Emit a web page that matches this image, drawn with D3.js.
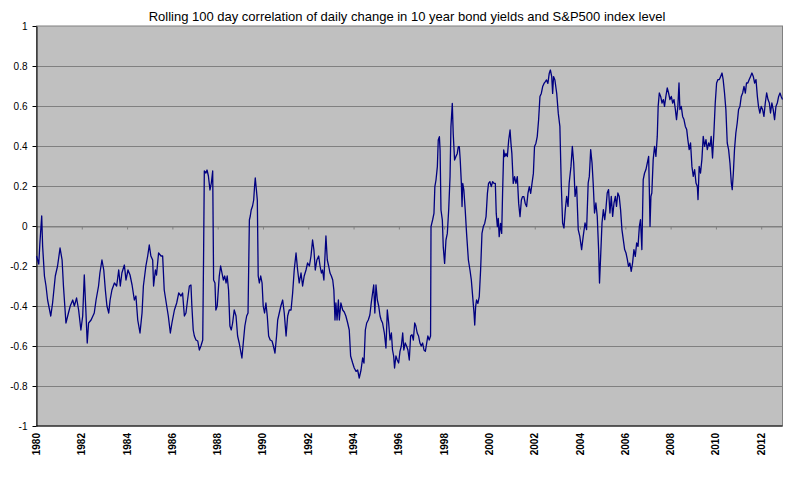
<!DOCTYPE html>
<html>
<head>
<meta charset="utf-8">
<script src="https://cdn.jsdelivr.net/npm/d3@7"></script>
<style>
  html, body { margin: 0; padding: 0; background: #fff; }
  svg text { font-family: Arial, "Liberation Sans", sans-serif; }
</style>
</head>
<body>
<svg id="chart" width="800" height="489"></svg>
<script>
const title = "Rolling 100 day correlation of daily change in 10 year bond yields and S&P500 index level";
const yTicks = [-1, -0.8, -0.6, -0.4, -0.2, 0, 0.2, 0.4, 0.6, 0.8, 1];
const xTickYears = [1980,1982,1984,1986,1988,1990,1992,1994,1996,1998,2000,2002,2004,2006,2008,2010,2012];
const xDomain = [1980, 2012.94];

// decimal year of each observation
const years = [
1980.00,1980.10,1980.15,1980.23,1980.27,1980.35,1980.42,1980.49,1980.63,1980.71,1980.83,1980.93,1981.04,1981.13,1981.19,1981.30,1981.41,1981.49,1981.60,1981.67,1981.77,1981.86,1981.96,1982.04,1982.11,1982.19,1982.24,1982.30,1982.41,1982.55,1982.63,1982.74,1982.80,1982.89,1982.97,1983.04,1983.11,1983.19,1983.25,1983.33,1983.44,1983.54,1983.63,1983.70,1983.77,1983.88,1983.95,1984.04,1984.13,1984.22,1984.32,1984.39,1984.47,1984.57,1984.66,1984.72,1984.83,1984.91,1984.98,1985.05,1985.13,1985.17,1985.25,1985.30,1985.39,1985.50,1985.57,1985.64,1985.75,1985.82,1985.91,1985.98,1986.09,1986.19,1986.28,1986.38,1986.45,1986.53,
1986.60,1986.67,1986.75,1986.82,1986.86,1986.92,1986.97,1987.04,1987.12,1987.19,1987.26,1987.34,1987.38,1987.41,1987.48,1987.53,1987.59,1987.66,1987.72,1987.78,1987.82,1987.88,1987.92,1987.98,1988.07,1988.13,1988.19,1988.25,1988.31,1988.37,1988.42,1988.48,1988.54,1988.60,1988.66,1988.73,1988.81,1988.88,1988.95,1989.03,1989.07,1989.13,1989.20,1989.28,1989.34,1989.40,1989.44,1989.48,1989.54,1989.59,1989.63,1989.66,1989.71,1989.75,1989.79,1989.84,1989.90,1989.96,1990.01,1990.07,1990.13,1990.19,1990.25,1990.32,1990.40,1990.46,1990.53,1990.60,1990.65,1990.72,1990.79,1990.87,1990.94,1991.02,1991.09,1991.16,1991.24,1991.31,1991.38,1991.46,1991.53,1991.60,1991.68,1991.75,1991.82,1991.90,1991.97,1992.05,1992.12,1992.19,1992.25,1992.31,1992.38,1992.46,1992.52,1992.58,1992.63,1992.69,1992.75,1992.78,1992.84,1992.90,1992.96,1993.02,1993.08,1993.13,1993.18,
1993.22,1993.27,1993.33,1993.37,1993.44,1993.52,1993.59,1993.66,1993.74,1993.81,1993.87,1993.96,1994.03,1994.11,1994.18,1994.25,1994.33,1994.40,1994.46,1994.52,1994.58,1994.65,1994.72,1994.78,1994.84,1994.89,1994.94,1994.99,1995.05,1995.11,1995.17,1995.22,1995.28,1995.36,1995.43,1995.49,1995.55,1995.61,1995.67,1995.72,1995.77,1995.81,1995.87,1995.93,1995.99,1996.05,1996.11,1996.17,1996.22,1996.28,1996.34,1996.40,1996.46,1996.52,1996.58,1996.64,1996.70,1996.75,1996.81,1996.87,1996.93,1996.99,1997.05,1997.11,1997.17,1997.23,1997.28,1997.34,1997.40,
1997.42,1997.49,1997.55,1997.59,1997.64,1997.70,1997.74,1997.79,1997.82,1997.86,1997.92,1997.96,1998.02,1998.08,1998.14,1998.20,1998.26,1998.30,1998.36,1998.40,1998.46,1998.52,1998.58,1998.625,1998.67,1998.71,1998.76,1998.79,1998.82,1998.87,1998.93,1998.99,1999.07,1999.14,1999.20,1999.26,1999.32,1999.35,1999.39,1999.43,1999.49,1999.55,1999.61,1999.67,1999.73,1999.79,1999.85,1999.91,1999.96,2000.02,2000.08,2000.14,2000.20,2000.26,2000.30,2000.35,2000.39,2000.43,2000.49,2000.54,2000.58,2000.63,2000.68,2000.73,2000.79,2000.85,2000.91,2000.95,2000.99,2001.05,2001.11,2001.17,2001.23,2001.29,2001.35,2001.41,2001.46,2001.52,2001.58,2001.64,2001.70,2001.76,2001.82,2001.88,2001.94,2001.99,2002.05,2002.11,2002.17,2002.23,2002.29,2002.35,2002.41,2002.47,2002.52,2002.58,2002.64,2002.69,2002.75,2002.79,2002.83,2002.89,2002.97,2003.04,
2003.11,2003.17,2003.23,2003.29,2003.35,2003.41,2003.47,2003.52,2003.60,2003.66,2003.72,2003.78,2003.85,2003.92,2003.99,2004.07,2004.14,2004.22,2004.29,2004.36,2004.41,2004.47,2004.53,2004.58,2004.64,2004.70,2004.76,2004.82,2004.86,2004.91,2004.97,2005.03,2005.09,2005.14,2005.20,2005.26,2005.32,2005.38,2005.44,2005.50,2005.56,2005.61,2005.67,2005.73,2005.79,2005.85,2005.91,2005.97,2006.03,2006.09,2006.14,2006.20,2006.26,2006.32,2006.38,2006.44,2006.50,2006.56,2006.62,2006.67,2006.73,2006.79,2006.85,2006.91,2006.97,2007.03,2007.06,2007.09,2007.13,2007.17,2007.23,2007.29,2007.35,2007.41,2007.45,2007.50,2007.56,2007.62,2007.68,2007.73,2007.79,2007.85,2007.91,2007.97,2008.03,2008.09,2008.15,2008.21,2008.26,2008.32,2008.37,2008.41,2008.47,2008.53,2008.59,2008.65,2008.71,2008.76,2008.82,2008.88,2008.94,2009.00,2009.06,2009.12,2009.18,2009.21,2009.26,2009.32,2009.38,2009.44,2009.50,2009.56,2009.62,2009.68,2009.74,2009.79,2009.85,2009.91,2009.97,2010.03,2010.09,2010.15,2010.21,2010.27,2010.32,2010.38,2010.44,2010.50,2010.56,2010.62,2010.68,2010.72,2010.77,2010.82,2010.88,2010.94,2011.00,2011.06,2011.12,2011.18,2011.24,2011.30,2011.35,2011.41,2011.47,2011.53,2011.59,2011.65,2011.71,2011.77,2011.83,2011.88,2011.94,2012.00,2012.06,2012.12,2012.18,2012.24,2012.30,2012.36,2012.41,2012.47,2012.53,2012.59,2012.65,2012.71,2012.77,2012.83,2012.88,2012.94
];

// rolling correlation value at each observation
const corr = [
-0.15,-0.19,-0.085,0.05,-0.10,-0.25,-0.30,-0.37,-0.45,-0.385,-0.25,-0.20,-0.11,-0.17,-0.30,-0.485,-0.435,-0.40,-0.37,-0.40,-0.36,-0.42,-0.52,-0.45,-0.245,-0.45,-0.585,-0.485,-0.47,-0.435,-0.37,-0.30,-0.235,-0.17,-0.22,-0.32,-0.40,-0.435,-0.37,-0.32,-0.285,-0.30,-0.22,-0.30,-0.235,-0.195,-0.27,-0.22,-0.245,-0.295,-0.37,-0.35,-0.47,-0.535,-0.435,-0.30,-0.20,-0.15,-0.095,-0.15,-0.17,-0.30,-0.22,-0.245,-0.135,-0.15,-0.15,-0.32,-0.40,-0.45,-0.535,-0.485,-0.42,-0.385,-0.335,-0.35,-0.335,-0.45,
-0.435,-0.37,-0.30,-0.295,-0.40,-0.52,-0.55,-0.57,-0.575,-0.62,-0.60,-0.57,-0.12,0.275,0.265,0.28,0.25,0.18,0.215,0.275,-0.27,-0.285,-0.42,-0.40,-0.25,-0.20,-0.235,-0.27,-0.25,-0.285,-0.25,-0.32,-0.50,-0.52,-0.485,-0.42,-0.45,-0.55,-0.585,-0.635,-0.66,-0.585,-0.50,-0.45,-0.435,0.03,0.05,0.08,0.10,0.13,0.20,0.24,0.18,0.13,-0.25,-0.285,-0.25,-0.285,-0.40,-0.435,-0.385,-0.45,-0.55,-0.57,-0.575,-0.60,-0.635,-0.55,-0.47,-0.435,-0.40,-0.37,-0.435,-0.55,-0.45,-0.42,-0.42,-0.335,-0.22,-0.135,-0.22,-0.285,-0.235,-0.30,-0.25,-0.22,-0.185,-0.20,-0.15,-0.07,-0.12,-0.22,-0.17,-0.15,-0.20,-0.235,-0.22,-0.27,-0.12,-0.05,-0.17,-0.20,-0.235,-0.25,-0.27,-0.32,-0.47,
-0.385,-0.47,-0.37,-0.47,-0.385,-0.42,-0.43,-0.45,-0.485,-0.52,-0.65,-0.685,-0.71,-0.727,-0.72,-0.76,-0.72,-0.66,-0.685,-0.52,-0.485,-0.47,-0.445,-0.385,-0.335,-0.295,-0.435,-0.295,-0.37,-0.40,-0.45,-0.47,-0.485,-0.535,-0.61,-0.42,-0.485,-0.57,-0.535,-0.62,-0.65,-0.71,-0.65,-0.67,-0.685,-0.627,-0.60,-0.535,-0.62,-0.585,-0.60,-0.62,-0.67,-0.55,-0.543,-0.57,-0.485,-0.50,-0.535,-0.55,-0.585,-0.60,-0.585,-0.62,-0.627,-0.585,-0.55,-0.57,-0.55,
-0.003,0.03,0.063,0.197,0.23,0.297,0.43,0.447,0.38,0.08,0.03,-0.103,-0.187,-0.07,-0.037,0.08,0.247,0.497,0.613,0.463,0.33,0.347,0.363,0.397,0.397,0.33,0.213,0.097,0.213,0.18,0.08,-0.037,-0.17,-0.22,-0.27,-0.353,-0.437,-0.495,-0.403,-0.37,-0.387,-0.353,-0.22,-0.037,-0.003,0.013,0.047,0.163,0.213,0.222,0.197,0.222,0.213,0.213,0.063,-0.003,0.038,-0.053,0.013,-0.037,0.163,0.38,0.347,0.363,0.347,0.43,0.48,0.413,0.363,0.213,0.247,0.213,0.247,0.113,0.047,0.13,0.147,0.147,0.113,0.097,0.163,0.197,0.163,0.213,0.263,0.397,0.413,0.447,0.53,0.647,0.663,0.697,0.713,0.722,0.73,0.713,0.763,0.78,0.747,0.663,0.747,0.73,0.663,0.563,
0.498,0.215,0.015,-0.01,0.082,0.148,0.098,0.215,0.298,0.398,0.315,0.148,0.198,-0.018,-0.052,-0.118,-0.052,0.015,-0.018,0.215,0.248,0.382,0.315,0.215,0.065,0.115,0.048,-0.118,-0.285,-0.152,0.015,0.082,0.032,0.082,0.165,0.182,0.065,0.148,0.048,0.115,0.148,0.098,0.165,0.148,0.082,-0.018,-0.068,-0.118,-0.135,-0.168,-0.202,-0.185,-0.227,-0.185,-0.118,-0.152,-0.085,-0.102,-0.002,0.032,-0.118,0.232,0.265,0.282,0.315,0.348,0.182,-0.002,0.148,0.165,0.332,0.398,0.348,0.448,0.598,0.665,0.648,0.615,0.632,0.598,0.648,0.69,0.665,0.632,0.648,0.615,0.632,0.582,0.532,0.598,0.715,0.582,0.598,0.548,0.532,0.498,0.482,0.432,0.382,0.415,0.298,0.248,0.282,0.215,0.198,0.132,0.298,0.265,0.332,0.448,0.398,0.432,0.382,0.415,0.398,0.448,0.34,0.465,0.615,0.715,0.732,0.732,0.748,0.765,0.732,0.665,0.582,0.415,0.382,0.315,0.215,0.182,0.265,0.382,0.465,0.515,0.582,0.598,0.648,0.665,0.698,0.665,0.715,0.715,0.732,0.748,0.765,0.748,0.715,0.732,0.648,0.598,0.565,0.598,0.582,0.548,0.615,0.665,0.632,0.615,0.565,0.615,0.582,0.532,0.598,0.615,0.648,0.665,0.648,0.632
];

const data = years.map((t, i) => ({ t, v: corr[i] }));

const svg = d3.select("#chart");
const plotLeft = 36.5, plotRight = 782.5, plotTop = 26, plotBottom = 426;

const x = d3.scaleLinear().domain(xDomain).range([plotLeft, plotRight]);
const y = d3.scaleLinear().domain([-1, 1]).range([plotBottom, plotTop]);

// plot background
svg.append("rect")
  .attr("x", plotLeft).attr("y", plotTop)
  .attr("width", plotRight - plotLeft).attr("height", plotBottom - plotTop)
  .attr("fill", "#C0C0C0").attr("stroke", "#808080").attr("stroke-width", 1);

// gridlines
svg.append("g").selectAll("line")
  .data(yTicks.filter(d => d > -1 && d < 1))
  .join("line")
  .attr("x1", plotLeft).attr("x2", plotRight)
  .attr("y1", d => Math.round(y(d)) + 0.5).attr("y2", d => Math.round(y(d)) + 0.5)
  .attr("stroke", "#808080").attr("stroke-width", 1);

// category axis crossing at zero (tick marks only)
const xAxisG = svg.append("g")
  .attr("transform", `translate(0,${Math.round(y(0)) + 0.5})`)
  .call(d3.axisBottom(x).tickValues(xTickYears).tickSize(3).tickSizeOuter(0).tickFormat(""));
xAxisG.select(".domain").attr("stroke", "#808080");
xAxisG.selectAll(".tick line").attr("stroke", "#808080");

// y axis
const yAxisG = svg.append("g")
  .attr("transform", `translate(${plotLeft},0)`)
  .call(d3.axisLeft(y).tickValues(yTicks).tickSize(4).tickSizeOuter(0).tickPadding(5)
    .tickFormat(d => String(Math.round(d * 10) / 10)));
yAxisG.select(".domain").attr("stroke", "#000");
yAxisG.selectAll(".tick line").attr("stroke", "#000");
yAxisG.selectAll(".tick text")
  .attr("font-size", "10px").attr("fill", "#000")
  .attr("font-family", "Arial, 'Liberation Sans', sans-serif");

// bottom axis line
svg.append("line")
  .attr("x1", plotLeft).attr("x2", plotRight).attr("y1", plotBottom).attr("y2", plotBottom)
  .attr("stroke", "#000").attr("stroke-width", 1);

// year labels (rotated)
svg.append("g").selectAll("text")
  .data(xTickYears)
  .join("text")
  .attr("transform", d => `translate(${x(d)},433) rotate(-90)`)
  .attr("text-anchor", "end")
  .attr("dy", "0.35em")
  .attr("font-size", "10px")
  .attr("font-weight", "bold")
  .attr("fill", "#000")
  .text(d => d);

// series line
const line = d3.line().x(d => x(d.t)).y(d => y(d.v));
svg.append("path")
  .datum(data)
  .attr("d", line)
  .attr("fill", "none")
  .attr("stroke", "#000080")
  .attr("stroke-width", 1.3)
  .attr("stroke-linejoin", "round");

// title
svg.append("text")
  .attr("x", 407).attr("y", 20.5)
  .attr("text-anchor", "middle")
  .attr("font-size", "13px")
  .attr("fill", "#000")
  .text(title);
</script>
</body>
</html>
